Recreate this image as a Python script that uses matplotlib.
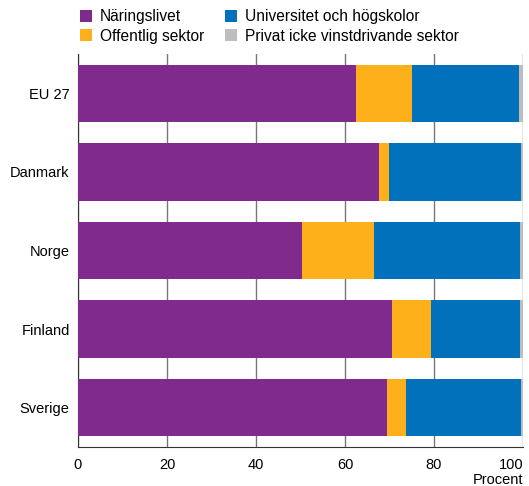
import numpy as np
import matplotlib
matplotlib.use("Agg")
import matplotlib.pyplot as plt

plt.rcParams['font.family'] = ['Liberation Sans', 'DejaVu Sans']

countries = ['EU 27', 'Danmark', 'Norge', 'Finland', 'Sverige']
naringslivet = [62.5, 67.6, 50.3, 70.6, 69.4]
offentlig = [12.6, 2.2, 16.2, 8.8, 4.3]
universitet = [24.0, 29.7, 32.8, 20.0, 25.8]
privat = [0.9, 0.5, 0.7, 0.6, 0.5]

labels = ['Näringslivet', 'Offentlig sektor',
          'Universitet och högskolor', 'Privat icke vinstdrivande sektor']
colors = ['#7f2a8c', '#fdb01a', '#0071ba', '#bcbec0']

fig = plt.figure(figsize=(5.29, 4.86), dpi=100)
ax = fig.add_axes([0.1474, 0.0802, 0.8413, 0.8087])

y = np.arange(len(countries))
left = np.zeros(len(countries))
for vals, lab, col in zip([naringslivet, offentlig, universitet, privat], labels, colors):
    ax.barh(y, vals, left=left, height=0.73, color=col, label=lab, zorder=3)
    left += np.array(vals)

ax.set_ylim(4.5, -0.5)
ax.set_xlim(0, 100)
ax.set_yticks(y)
ax.set_yticklabels(countries, fontsize=10.5)
ax.set_xticks([0, 20, 40, 60, 80, 100])
ax.tick_params(axis='x', length=0, pad=8, labelsize=10.5)
ax.tick_params(axis='y', length=0, pad=6)
ax.get_xticklabels()[-1].set_horizontalalignment('right')
ax.grid(axis='x', color='#777777', linewidth=1, zorder=0)
for s in ['top', 'right']:
    ax.spines[s].set_visible(False)
ax.spines['left'].set_color('#333333')
ax.spines['bottom'].set_color('#333333')

fig.text(0.99, 1 - 484 / 486, 'Procent', ha='right', va='baseline', fontsize=10.5)

fig.legend(loc='upper left', bbox_to_anchor=(80 / 529, 1 - 9 / 486), ncol=2, frameon=False,
           fontsize=11.2, handlelength=0.8, handleheight=0.8, handletextpad=0.5,
           columnspacing=1.3, labelspacing=0.3, borderaxespad=0, borderpad=0)

fig.savefig('out.png', dpi=100)
